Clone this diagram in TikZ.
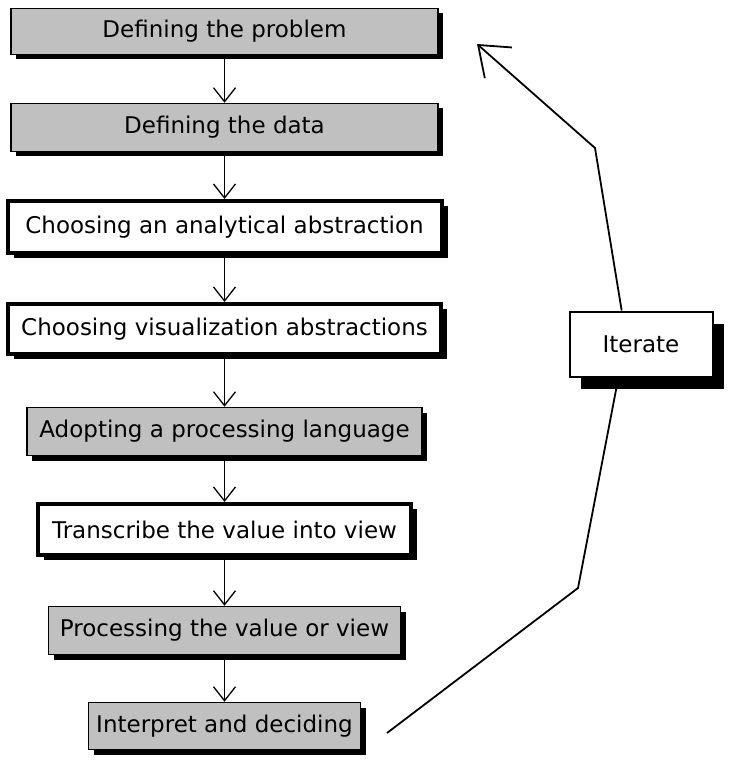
\documentclass[tikz,border=0pt]{standalone}
\usepackage{fontspec}
\setmainfont{DejaVu Sans}
\usepackage{tikz}
\usetikzlibrary{arrows.meta,shadows}
\usepackage{xcolor}
\definecolor{boxgray}{HTML}{C0C0C0}
\newcommand{\boxfont}{\fontsize{23}{27}\selectfont}

\begin{document}
\begin{tikzpicture}[
    x=1pt,y=1pt,
    graybox/.style={rectangle,inner sep=0pt,text centered,draw=black,line width=1.5pt,fill=boxgray,font=\boxfont,drop shadow={shadow xshift=5pt,shadow yshift=-5pt,opacity=1,fill=black}},
    thickbox/.style={rectangle,inner sep=0pt,text centered,draw=black,line width=4pt,fill=white,font=\boxfont,drop shadow={shadow xshift=6pt,shadow yshift=-5pt,opacity=1,fill=black}},
    iterbox/.style={rectangle,inner sep=0pt,text centered,draw=black,line width=2pt,fill=white,font=\boxfont,drop shadow={shadow xshift=11pt,shadow yshift=-12pt,opacity=1,fill=black}},
    arrow/.style={-{Straight Barb[length=14pt,width=22pt]},line width=1.3pt},
    loopline/.style={line width=1.8pt}
]
\useasboundingbox (0,0) rectangle (732,-762);

% Problem and data
\node[graybox,minimum width=427pt,minimum height=46pt] (problem) at (224.5,-31.5) {Defining the problem};
\node[graybox,minimum width=427pt,minimum height=48pt] (data) at (224.5,-127.5) {Defining the data};

% Abstractions
\node[thickbox,minimum width=434pt,minimum height=52pt] (analytic) at (224.5,-227) {Choosing an analytical abstraction};
\node[thickbox,minimum width=433pt,minimum height=50pt] (visual) at (224.5,-329) {Choosing visualization abstractions};

% Language
\node[graybox,minimum width=395pt,minimum height=48pt] (language) at (224.5,-431.5) {Adopting a processing language};

% Transcribe
\node[thickbox,minimum width=373pt,minimum height=51pt] (transcribe) at (224.5,-529.5) {Transcribe the value into view};

% Processing and deciding
\node[graybox,minimum width=352pt,minimum height=48pt] (processing) at (224.5,-630.5) {Processing the value or view};
\node[graybox,minimum width=272pt,minimum height=47pt] (decide) at (224.5,-726) {Interpret and deciding};

% Iterate
\node[iterbox,minimum width=143pt,minimum height=65pt] (iterate) at (641,-344) {Iterate};

% Loop points
\coordinate (loopstart) at (387,-733);
\coordinate (lowbend) at (578,-588);
\coordinate (highbend) at (595,-148);
\coordinate (looptip) at (477,-44);

% Arrows
\draw[arrow] (problem) -- (data);
\draw[arrow] (data) -- (analytic);
\draw[arrow] (analytic) -- (visual);
\draw[arrow] (visual) -- (language);
\draw[arrow] (language) -- (transcribe);
\draw[arrow] (transcribe) -- (processing);
\draw[arrow] (processing) -- (decide);
\draw[loopline] (loopstart) -- (lowbend) -- (iterate.236);
\draw[loopline,-{Straight Barb[length=27pt,width=41pt]}] (iterate.120) -- (highbend) -- (looptip);
\end{tikzpicture}
\end{document}
